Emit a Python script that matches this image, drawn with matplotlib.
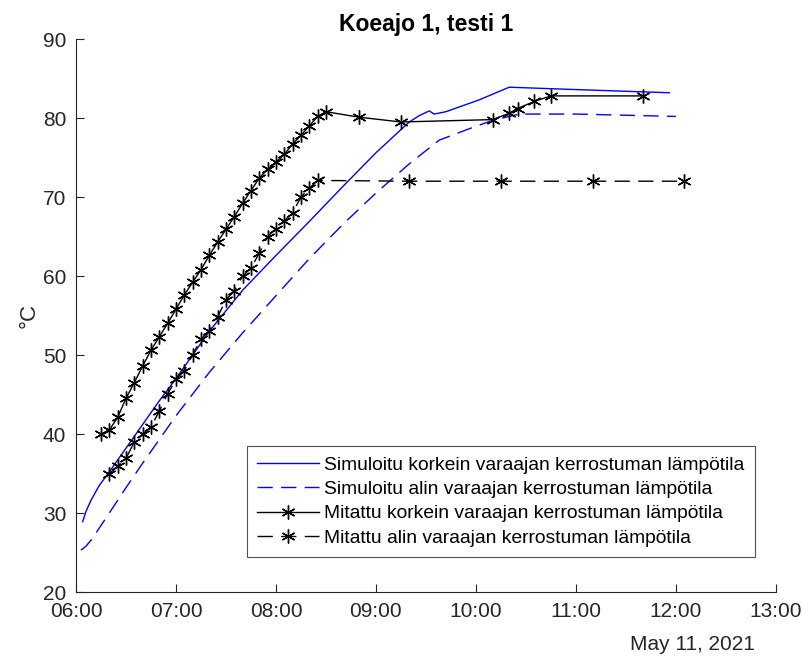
import matplotlib
matplotlib.use("Agg")
import matplotlib.pyplot as plt
import matplotlib.dates as mdates
import pandas as pd

plt.rcParams['font.family'] = ['Liberation Sans', 'DejaVu Sans']

day = "2021-05-11 "

# simuloitu korkein
sim_top_t = ["06:04", "06:06", "06:09", "06:14", "06:20", "06:30", "06:40", "06:50", "07:00",
             "07:20", "07:40", "08:00", "08:20", "08:40", "09:00", "09:20", "09:26", "09:32",
             "09:35", "09:42", "10:02", "10:20", "11:00", "11:56"]
sim_top_v = [28.9, 30.2, 31.6, 33.5, 35.2, 38.2, 41.2, 44.2, 47.0,
             53.0, 58.2, 62.6, 66.9, 71.3, 75.6, 79.5, 80.3, 80.9,
             80.5, 80.8, 82.3, 83.9, 83.6, 83.2]

# simuloitu alin
sim_bot_t = ["06:03", "06:06", "06:10", "06:14", "06:20", "06:30", "06:40", "06:50", "07:00",
             "07:20", "07:40", "08:00", "08:20", "08:40", "09:00", "09:20", "09:38", "09:58",
             "10:10", "10:26", "11:00", "12:00"]
sim_bot_v = [25.3, 25.8, 26.8, 28.1, 30.0, 33.2, 36.3, 39.3, 42.3,
             47.8, 52.8, 57.5, 62.2, 66.5, 70.5, 74.2, 77.2, 78.8,
             79.7, 80.5, 80.5, 80.2]

# mitattu korkein
meas_top_t = ["06:15", "06:20", "06:25", "06:30", "06:35", "06:40", "06:45", "06:50", "06:55",
              "07:00", "07:05", "07:10", "07:15", "07:20", "07:25", "07:30", "07:35", "07:40",
              "07:45", "07:50", "07:55", "08:00", "08:05", "08:10", "08:15", "08:20", "08:25",
              "08:30", "08:50", "09:15", "10:10", "10:20", "10:25", "10:35", "10:45", "11:40"]
meas_top_v = [40.0, 40.5, 42.1, 44.5, 46.5, 48.6, 50.6, 52.3, 54.0,
              55.8, 57.6, 59.2, 60.8, 62.6, 64.3, 65.9, 67.5, 69.2,
              70.8, 72.4, 73.5, 74.4, 75.4, 76.7, 77.8, 79.0, 80.2,
              80.8, 80.1, 79.5, 79.8, 80.6, 81.2, 82.1, 82.8, 82.8]

# mitattu alin
meas_bot_t = ["06:20", "06:25", "06:30", "06:35", "06:40", "06:45", "06:50", "06:55", "07:00",
              "07:05", "07:10", "07:15", "07:20", "07:25", "07:30", "07:35", "07:40", "07:45",
              "07:50", "07:55", "08:00", "08:05", "08:10", "08:15", "08:20", "08:25",
              "09:20", "10:15", "11:10", "12:05"]
meas_bot_v = [35.0, 35.9, 36.9, 39.0, 40.0, 40.9, 42.9, 45.1, 46.9,
              48.0, 50.0, 52.0, 53.1, 54.8, 57.0, 58.1, 60.0, 61.0,
              62.9, 65.0, 66.0, 67.0, 68.0, 70.0, 71.1, 72.1,
              72.0, 72.0, 72.0, 72.0]

labels = ["Simuloitu korkein varaajan kerrostuman lämpötila",
          "Simuloitu alin varaajan kerrostuman lämpötila",
          "Mitattu korkein varaajan kerrostuman lämpötila",
          "Mitattu alin varaajan kerrostuman lämpötila"]


def to_time(lst):
    return pd.to_datetime([day + t for t in lst])


fig = plt.figure(figsize=(8.04, 6.58), dpi=100)
ax = fig.add_axes([0.0945, 0.1003, 0.8705, 0.8404])

star = (6, 2, 0)
dash = (11, 6)
ax.plot(to_time(sim_top_t), sim_top_v, color='#0000ff', lw=1, label=labels[0])
ax.plot(to_time(sim_bot_t), sim_bot_v, color='#0000ff', lw=1, dashes=dash, label=labels[1])
ax.plot(to_time(meas_top_t), meas_top_v, color='black', lw=1, marker=star, ms=10,
        mew=1, label=labels[2])
ax.plot(to_time(meas_bot_t), meas_bot_v, color='black', lw=1, dashes=dash, marker=star,
        ms=10, mew=1, label=labels[3])

ax.set_xlim(pd.Timestamp(day + "06:00"), pd.Timestamp(day + "13:00"))
ax.set_ylim(20, 90)
ax.set_yticks(range(20, 91, 10))
ax.xaxis.set_major_locator(mdates.HourLocator())
ax.xaxis.set_major_formatter(mdates.DateFormatter('%H:%M'))

for s in ['top', 'right']:
    ax.spines[s].set_visible(False)
for s in ['left', 'bottom']:
    ax.spines[s].set_color('#262626')
ax.tick_params(direction='in', length=6, colors='#262626', labelsize=15)
ax.tick_params(axis='x', pad=7)
ax.tick_params(axis='y', pad=7)

ax.set_ylabel('°C', fontsize=16, color='#262626', labelpad=2)
ax.set_title('Koeajo 1, testi 1', fontsize=16.5, fontweight='bold', pad=6)
fig.text(0.861, 0.0198, 'May 11, 2021', fontsize=15, color='#262626',
         ha='center', va='center')

leg = ax.legend(loc='lower right', bbox_to_anchor=(0.970, 0.063), fontsize=13.9,
                frameon=True, fancybox=False, edgecolor='#262626', handlelength=3.2,
                borderpad=0.55, labelspacing=0.35, handletextpad=0.26, borderaxespad=0)
leg.get_frame().set_linewidth(0.8)

fig.savefig('out.png', dpi=100)
